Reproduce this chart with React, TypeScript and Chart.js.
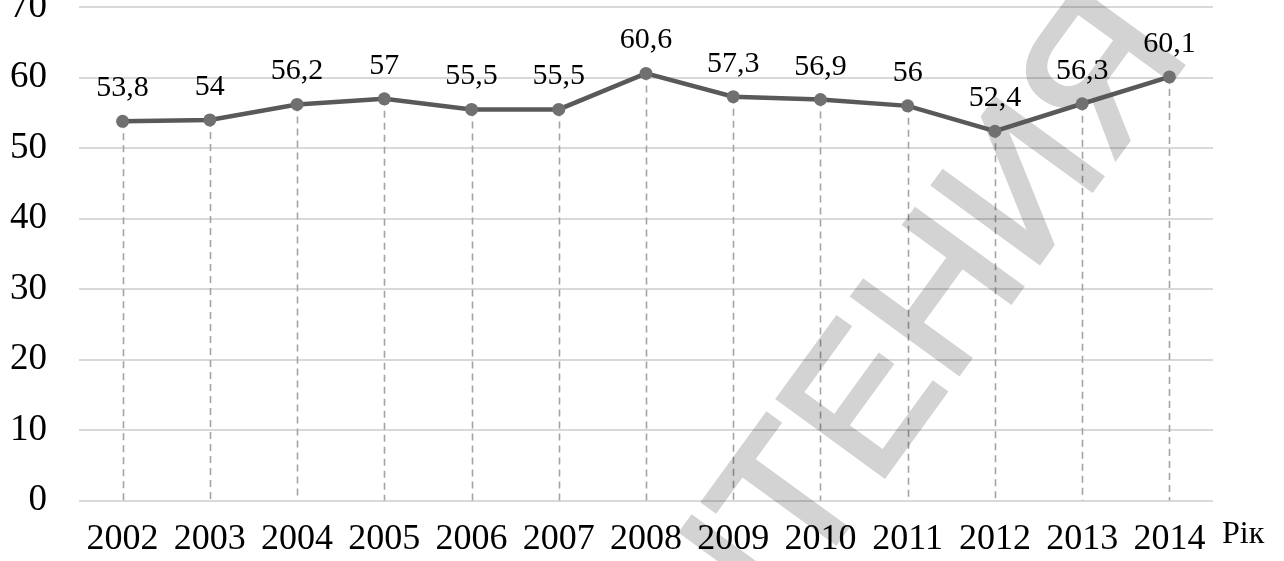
import { useEffect, useRef } from 'react';
import { Chart, registerables } from 'chart.js';

Chart.register(...registerables);

const years = ['2002', '2003', '2004', '2005', '2006', '2007', '2008', '2009', '2010', '2011', '2012', '2013', '2014'];
const values = [53.8, 54, 56.2, 57, 55.5, 55.5, 60.6, 57.3, 56.9, 56, 52.4, 56.3, 60.1];
const yMin = 0;
const yMax = 70;
const yStep = 10;
const xAxisTitle = 'Рік';
const watermarkPrefix = 'ДЛЯ Ч';
const watermarkText = 'ДЛЯ ЧТЕНИЯ';

const fmt = (v: number) => String(v).replace('.', ',');

const dropLines = {
  id: 'dropLines',
  beforeDatasetsDraw(chart: any) {
    const { ctx, chartArea } = chart;
    const meta = chart.getDatasetMeta(0);
    ctx.save();
    ctx.strokeStyle = '#a3a3a3';
    ctx.lineWidth = 1.6;
    ctx.setLineDash([7, 5]);
    meta.data.forEach((pt: any) => {
      const x = Math.round(pt.x) + 0.5;
      ctx.beginPath();
      ctx.moveTo(x, pt.y);
      ctx.lineTo(x, chartArea.bottom);
      ctx.stroke();
    });
    ctx.restore();
  },
};

const watermark = {
  id: 'watermark',
  beforeDatasetsDraw(chart: any) {
    const { ctx, chartArea, width, height } = chart;
    const off = document.createElement('canvas');
    off.width = width;
    off.height = height;
    const o = off.getContext('2d') as CanvasRenderingContext2D;
    o.fillStyle = '#ffffff';
    o.fillRect(0, 0, width, height);
    o.translate(chartArea.left + 728, chartArea.bottom + 81.5);
    o.rotate((-54 * Math.PI) / 180);
    o.fillStyle = '#d3d3d3';
    o.strokeStyle = '#d3d3d3';
    o.lineWidth = 5;
    o.lineJoin = 'miter';
    o.font = '190px "Liberation Sans", Arial, sans-serif';
    o.textAlign = 'left';
    o.textBaseline = 'alphabetic';
    const shift = o.measureText(watermarkPrefix).width;
    o.fillText(watermarkText, -shift, 0);
    o.strokeText(watermarkText, -shift, 0);
    ctx.save();
    ctx.setTransform(1, 0, 0, 1, 0, 0);
    ctx.globalCompositeOperation = 'multiply';
    ctx.drawImage(off, 0, 0);
    ctx.restore();
  },
};

const dataLabels = {
  id: 'dataLabels',
  afterDatasetsDraw(chart: any) {
    const { ctx } = chart;
    const meta = chart.getDatasetMeta(0);
    ctx.save();
    ctx.fillStyle = '#000000';
    ctx.font = '30px "Liberation Serif", "Times New Roman", serif';
    ctx.textAlign = 'center';
    ctx.textBaseline = 'alphabetic';
    meta.data.forEach((pt: any, i: number) => {
      ctx.fillText(fmt(values[i]), pt.x, pt.y - 25);
    });
    ctx.restore();
  },
};

const axisTitle = {
  id: 'axisTitle',
  afterDraw(chart: any) {
    const { ctx, chartArea } = chart;
    ctx.save();
    ctx.fillStyle = '#000000';
    ctx.font = '32px "Liberation Serif", "Times New Roman", serif';
    ctx.textAlign = 'left';
    ctx.textBaseline = 'alphabetic';
    ctx.fillText(xAxisTitle, chartArea.right + 9, chartArea.bottom + 42.5);
    ctx.restore();
  },
};

export default function App() {
  const ref = useRef<HTMLCanvasElement>(null);

  useEffect(() => {
    document.body.style.margin = '0';
    const chart = new Chart(ref.current as HTMLCanvasElement, {
      type: 'line',
      data: {
        labels: years,
        datasets: [
          {
            data: values,
            borderColor: '#595959',
            borderWidth: 4.5,
            pointRadius: 6.5,
            pointBackgroundColor: '#707070',
            pointBorderWidth: 0,
            pointHoverRadius: 6.5,
            tension: 0,
            fill: false,
          },
        ],
      },
      options: {
        animation: false,
        responsive: true,
        maintainAspectRatio: false,
        devicePixelRatio: 1,
        layout: { padding: { top: 0, right: 71, bottom: 0, left: 0 } },
        plugins: {
          legend: { display: false },
          tooltip: { enabled: false },
        },
        scales: {
          x: {
            offset: true,
            grid: { display: false },
            border: { display: false },
            ticks: {
              color: '#000000',
              padding: 9,
              maxRotation: 0,
              autoSkip: false,
              font: { family: '"Liberation Serif", "Times New Roman", serif', size: 36 },
            },
            afterFit(scale: any) {
              scale.height = 60.5;
            },
          },
          y: {
            min: yMin,
            max: yMax,
            grid: { color: '#d9d9d9', lineWidth: 2, drawTicks: false },
            border: { display: false },
            ticks: {
              stepSize: yStep,
              color: '#000000',
              padding: 32,
              font: { family: '"Liberation Serif", "Times New Roman", serif', size: 37 },
            },
            afterFit(scale: any) {
              scale.width = 79;
            },
          },
        },
      },
      plugins: [dropLines, watermark, dataLabels, axisTitle],
    });
    return () => chart.destroy();
  }, []);

  return (
    <div style={{ position: 'relative', width: 1284, height: 561, overflow: 'hidden' }}>
      <div style={{ position: 'absolute', left: 0, top: -47, width: 1284, height: 608 }}>
        <canvas ref={ref} />
      </div>
    </div>
  );
}
